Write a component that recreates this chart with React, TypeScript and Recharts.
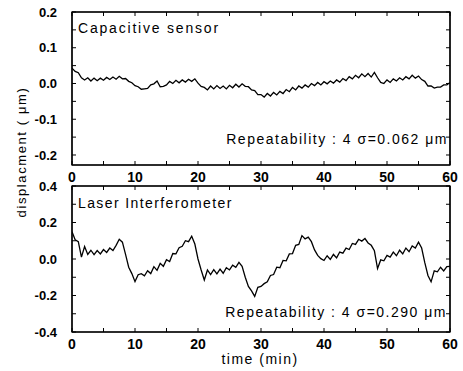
import React from 'react';
import { LineChart, Line, XAxis, YAxis } from 'recharts';

// Sampling grid of the recorded traces (minutes between samples)
const SAMPLE_STEP_MIN = 0.5;

// Capacitive sensor displacement (µm), one value every 0.5 min from 0 to 60
const capacitiveValues = [
  0.043, 0.034, 0.030, 0.016, 0.010, 0.016, 0.007, 0.015, 0.008, 0.015,
  0.009, 0.017, 0.011, 0.018, 0.012, 0.020, 0.013, 0.014, 0.006, 0.002,
  -0.006, -0.009, -0.016, -0.015, -0.014, -0.004, -0.001, 0.007, -0.009, -0.008,
  -0.004, 0.006, 0.000, 0.009, 0.002, 0.010, 0.004, 0.012, 0.006, 0.013,
  0.001, -0.008, -0.011, -0.018, -0.007, -0.015, -0.006, -0.014, -0.007, -0.015,
  -0.005, -0.012, -0.002, -0.010, -0.001, -0.008, -0.009, -0.018, -0.020, -0.031,
  -0.031, -0.038, -0.028, -0.035, -0.025, -0.032, -0.022, -0.028, -0.017, -0.023,
  -0.011, -0.018, -0.007, -0.013, -0.004, -0.010, 0.000, -0.006, 0.003, -0.004,
  0.005, -0.001, 0.007, 0.001, 0.010, 0.004, 0.014, 0.008, 0.019, 0.013,
  0.023, 0.016, 0.027, 0.019, 0.028, 0.018, 0.031, 0.016, 0.003, 0.000,
  0.010, 0.003, 0.013, 0.007, 0.016, 0.010, 0.019, 0.013, 0.023, 0.015,
  0.021, 0.011, 0.006, -0.007, -0.007, -0.013, -0.010, -0.010, -0.004, -0.004,
  0.003,
];

// Laser interferometer displacement (µm), one value every 0.5 min from 0 to 60
const laserValues = [
  0.150, 0.105, 0.095, 0.010, 0.068, 0.025, 0.048, 0.024, 0.046, 0.028,
  0.052, 0.036, 0.060, 0.046, 0.075, 0.108, 0.092, 0.025, -0.045, -0.080,
  -0.124, -0.086, -0.080, -0.092, -0.064, -0.080, -0.042, -0.062, -0.024, -0.040,
  -0.004, -0.014, 0.030, 0.028, 0.062, 0.070, 0.100, 0.095, 0.125, 0.082,
  0.000, -0.060, -0.115, -0.060, -0.085, -0.058, -0.082, -0.055, -0.078, -0.048,
  -0.060, -0.034, -0.046, -0.018, -0.040, -0.100, -0.150, -0.175, -0.205, -0.155,
  -0.150, -0.135, -0.125, -0.090, -0.085, -0.045, -0.048, -0.008, -0.010, 0.028,
  0.030, 0.075, 0.080, 0.128, 0.110, 0.120, 0.095, 0.050, 0.020, 0.002,
  -0.008, 0.018, -0.002, 0.025, 0.006, 0.038, 0.032, 0.060, 0.052, 0.085,
  0.080, 0.108, 0.098, 0.112, 0.088, 0.075, 0.045, -0.052, -0.005, -0.010,
  0.020, 0.010, 0.038, 0.018, 0.048, 0.028, 0.060, 0.040, 0.072, 0.060,
  0.092, 0.060, -0.020, -0.090, -0.125, -0.065, -0.070, -0.045, -0.065, -0.042,
  -0.040,
];

const xDomain = [0, 60];
const xTicks = [0, 5, 10, 15, 20, 25, 30, 35, 40, 45, 50, 55, 60];
const xTickLabels = [0, 10, 20, 30, 40, 50, 60];

const capDomain = [-0.228, 0.2];
const capTicks = [-0.2, -0.15, -0.1, -0.05, 0, 0.05, 0.1, 0.15, 0.2];
const capTickLabels = [-0.2, -0.1, 0, 0.1, 0.2];

const laserDomain = [-0.4, 0.4];
const laserTicks = [-0.4, -0.3, -0.2, -0.1, 0, 0.1, 0.2, 0.3, 0.4];
const laserTickLabels = [-0.4, -0.2, 0, 0.2, 0.4];

const capTitle = 'Capacitive sensor';
const capNote = 'Repeatability : 4 σ=0.062 μm';
const laserTitle = 'Laser Interferometer';
const laserNote = 'Repeatability : 4 σ=0.290 μm';
const xTitle = 'time (min)';
const yTitle = 'displacment ( μm)';

const FONT = 'Arial, "Liberation Sans", Helvetica, sans-serif';

const toRows = (vals: number[]) => vals.map((v, i) => ({ t: i * SAMPLE_STEP_MIN, v }));
const capData = toRows(capacitiveValues);
const laserData = toRows(laserValues);

const has = (list: number[], v: number) => list.some((l) => Math.abs(l - v) < 1e-9);

// layout (chart canvas, not data)
const CHART_W = 463;
const CHART_H = 185;
const Y_AXIS_W = 72;
const X_AXIS_H = 20;
const TICK_LEN = 4;
const BOTTOM_GAP = 7;
const LEFT_GAP = 15;

const BottomTick = (props: any) => {
  const { x, y, payload } = props;
  const axisY = y - BOTTOM_GAP;
  return (
    <g>
      <line x1={x} x2={x} y1={axisY} y2={axisY - TICK_LEN} stroke="#000" strokeWidth={1} />
      {has(xTickLabels, payload.value) && (
        <text x={x} y={y} dy="0.71em" textAnchor="middle" fontSize={14} fontWeight="bold" fontFamily={FONT} fill="#000">
          {String(payload.value)}
        </text>
      )}
    </g>
  );
};

const TopTick = (props: any) => {
  const { x, y } = props;
  return <line x1={x} x2={x} y1={y} y2={y + TICK_LEN} stroke="#000" strokeWidth={1} />;
};

const makeLeftTick = (labels: number[]) => (props: any) => {
  const { x, y, payload } = props;
  const axisX = x + LEFT_GAP;
  return (
    <g>
      <line x1={axisX} x2={axisX + TICK_LEN} y1={y} y2={y} stroke="#000" strokeWidth={1} />
      {has(labels, payload.value) && (
        <text x={x} y={y} dy="0.35em" textAnchor="end" fontSize={13} fontWeight="bold" fontFamily={FONT} fill="#000">
          {Number(payload.value).toFixed(1)}
        </text>
      )}
    </g>
  );
};

const RightTick = (props: any) => {
  const { x, y } = props;
  return <line x1={x} x2={x - TICK_LEN} y1={y} y2={y} stroke="#000" strokeWidth={1} />;
};

const axisLine = { stroke: '#000', strokeWidth: 1.2 };

function Panel({ data, yDomain, yTicks, yLabels, bottom }: { data: any[]; yDomain: number[]; yTicks: number[]; yLabels: number[]; bottom: number }) {
  return (
    <LineChart width={CHART_W} height={CHART_H} data={data} margin={{ top: 11, right: 12, bottom, left: 0 }}>
      <XAxis
        type="number"
        dataKey="t"
        domain={xDomain}
        ticks={xTicks}
        interval={0}
        allowDataOverflow
        height={X_AXIS_H}
        axisLine={axisLine}
        tickLine={false}
        tickSize={0}
        tickMargin={BOTTOM_GAP}
        tick={BottomTick}
      />
      <XAxis
        xAxisId="top"
        type="number"
        dataKey="t"
        domain={xDomain}
        ticks={xTicks}
        interval={0}
        allowDataOverflow
        orientation="top"
        height={1}
        axisLine={axisLine}
        tickLine={false}
        tickSize={0}
        tickMargin={0}
        tick={TopTick}
      />
      <YAxis
        type="number"
        domain={yDomain}
        ticks={yTicks}
        interval={0}
        allowDataOverflow
        width={Y_AXIS_W}
        axisLine={axisLine}
        tickLine={false}
        tickSize={0}
        tickMargin={LEFT_GAP}
        tick={makeLeftTick(yLabels)}
      />
      <YAxis
        yAxisId="right"
        type="number"
        domain={yDomain}
        ticks={yTicks}
        interval={0}
        allowDataOverflow
        orientation="right"
        width={1}
        axisLine={axisLine}
        tickLine={false}
        tickSize={0}
        tickMargin={0}
        tick={RightTick}
      />
      <Line
        type="linear"
        dataKey="v"
        stroke="#000"
        strokeWidth={1.3}
        dot={false}
        isAnimationActive={false}
      />
    </LineChart>
  );
}

// plot frames, matching each panel's plot box
const frames = [
  { top: 0, bottom: 0 },
  { top: 174, bottom: BOTTOM_GAP },
].map((p) => ({
  x: Y_AXIS_W,
  y: p.top + 12,
  w: CHART_W - 13 - Y_AXIS_W,
  h: CHART_H - 12 - p.bottom - X_AXIS_H,
}));

export default function App() {
  return (
    <div style={{ position: 'absolute', left: 0, top: 0, width: 463, height: 371 }}>
      <div style={{ position: 'absolute', left: 0, top: 0 }}>
        <Panel data={capData} yDomain={capDomain} yTicks={capTicks} yLabels={capTickLabels} bottom={0} />
      </div>
      <div style={{ position: 'absolute', left: 0, top: 174 }}>
        <Panel data={laserData} yDomain={laserDomain} yTicks={laserTicks} yLabels={laserTickLabels} bottom={BOTTOM_GAP} />
      </div>
      <svg width={463} height={371} style={{ position: 'absolute', left: 0, top: 0, pointerEvents: 'none' }}>
        {frames.map((f, i) => (
          <rect key={i} x={f.x} y={f.y} width={f.w} height={f.h} fill="none" stroke="#000" strokeWidth={1.3} />
        ))}
        <g fontFamily={FONT} fill="#000">
          <text x={78} y={33} fontSize={14} letterSpacing={1.8}>{capTitle}</text>
          <text x={448} y={144} fontSize={14} letterSpacing={1.5} textAnchor="end">{capNote}</text>
          <text x={78} y={208} fontSize={14} letterSpacing={1.4}>{laserTitle}</text>
          <text x={447} y={317} fontSize={14} letterSpacing={1.5} textAnchor="end">{laserNote}</text>
          <text x={260} y={364} fontSize={14} letterSpacing={1.5} textAnchor="middle">{xTitle}</text>
          <text
            x={0}
            y={0}
            fontSize={13}
            letterSpacing={1.6}
            textAnchor="middle"
            dominantBaseline="central"
            transform="translate(21,152) rotate(-90)"
          >
            {yTitle}
          </text>
        </g>
      </svg>
    </div>
  );
}
